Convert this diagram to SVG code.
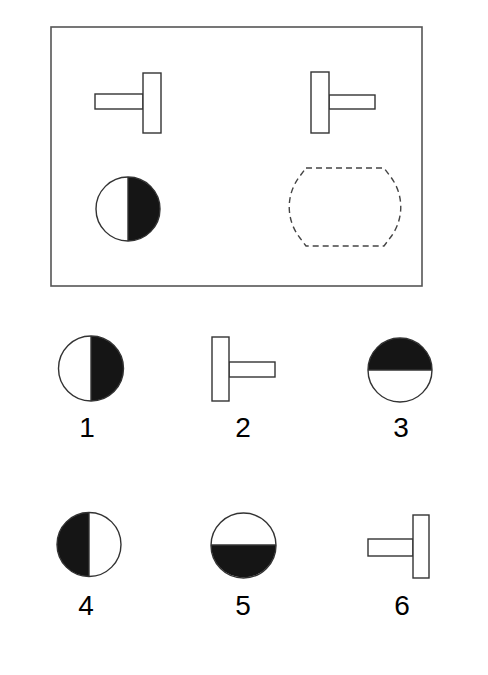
<svg xmlns="http://www.w3.org/2000/svg" width="488" height="675" viewBox="0 0 488 675">
<style>
.o{fill:#fff;stroke:#333;stroke-width:1.4}
.d{fill:#151515;stroke:none}
.c{fill:none;stroke:#333;stroke-width:1.4}
.lbl{font-family:"Liberation Sans",Arial,sans-serif;font-size:28px;fill:#000;text-anchor:middle}
</style>
<rect width="488" height="675" fill="#fff"/>
<g id="frame"><rect x="51" y="27" width="371" height="259" fill="none" stroke="#555" stroke-width="1.6"/></g>
<g id="t-left">
<rect class="o" x="95" y="94" width="48" height="15"/>
<rect class="o" x="143" y="73" width="18" height="60"/>
</g>
<g id="t-right">
<rect class="o" x="329" y="95" width="46" height="14"/>
<rect class="o" x="311" y="72" width="18" height="61"/>
</g>
<g id="circle-top">
<path class="d" d="M128,177 A32,32 0 0 1 128,241 Z"/>
<circle class="c" cx="128" cy="209" r="32"/>
<line class="c" x1="128" y1="177" x2="128" y2="241"/>
</g>
<g id="missing">
<path d="M306,168 L384,168 L390,176 A50,50 0 0 1 390,238 L384,246 L306,246 L300,238 A50,50 0 0 1 300,176 Z" fill="none" stroke="#444" stroke-width="1.4" stroke-dasharray="6,4"/>
</g>
<g id="opt1">
<path class="d" d="M91,336 A32.5,32.5 0 0 1 91,401 Z"/>
<circle class="c" cx="91" cy="368.5" r="32.5"/>
<line class="c" x1="91" y1="336" x2="91" y2="401"/>
<text class="lbl" x="87" y="437">1</text>
</g>
<g id="opt2">
<rect class="o" x="229" y="362" width="46" height="15"/>
<rect class="o" x="212" y="337" width="17" height="64"/>
<text class="lbl" x="243" y="437">2</text>
</g>
<g id="opt3">
<path class="d" d="M368,370 A32,32 0 0 1 432,370 Z"/>
<circle class="c" cx="400" cy="370" r="32"/>
<line class="c" x1="368" y1="370" x2="432" y2="370"/>
<text class="lbl" x="401" y="437">3</text>
</g>
<g id="opt4">
<path class="d" d="M89,512.5 A32,32 0 0 0 89,576.5 Z"/>
<circle class="c" cx="89" cy="544.5" r="32"/>
<line class="c" x1="89" y1="512.5" x2="89" y2="576.5"/>
<text class="lbl" x="86" y="615">4</text>
</g>
<g id="opt5">
<path class="d" d="M211,545 A32.5,32.5 0 0 0 276,545 Z"/>
<circle class="c" cx="243.5" cy="545.5" r="32.5"/>
<line class="c" x1="211" y1="545" x2="276" y2="545"/>
<text class="lbl" x="243" y="615">5</text>
</g>
<g id="opt6">
<rect class="o" x="368" y="539" width="45" height="17"/>
<rect class="o" x="413" y="515" width="16" height="63"/>
<text class="lbl" x="402" y="615">6</text>
</g>
<g id="connectors"></g>
</svg>
